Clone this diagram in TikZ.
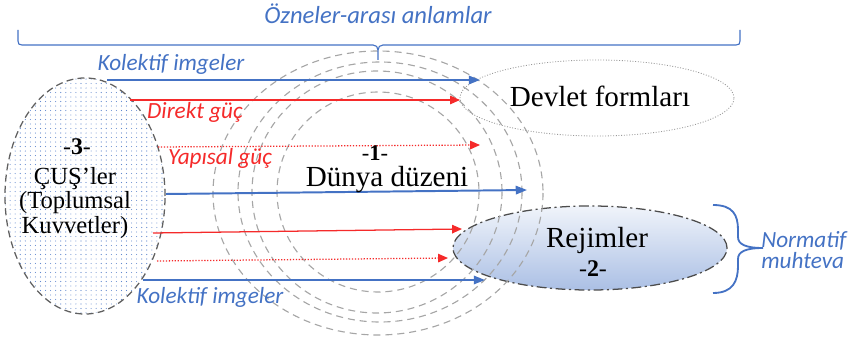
\documentclass[tikz,border=0pt]{standalone}
\usepackage{fontspec}
\setmainfont{Liberation Serif}
\newfontfamily\carlito{Carlito}
\usetikzlibrary{arrows.meta,patterns,shapes.geometric}

\definecolor{ofblue}{HTML}{4472C4}
\definecolor{ofred}{HTML}{F52A2A}

% light dot fill of the left ellipse
\pgfdeclarepatternformonly{bluedots}{\pgfqpoint{-1pt}{-1pt}}{\pgfqpoint{1pt}{1pt}}{\pgfqpoint{3.6pt}{3.2pt}}%
  {\pgfpathcircle{\pgfqpoint{0pt}{0pt}}{0.4pt}\pgfusepath{fill}}

\tikzset{
  ring/.style={gray!70, line width=0.8pt, dash pattern=on 5pt off 3.5pt},
  blarrow/.style={ofblue, line width=1.4pt, -{Triangle[length=8pt,width=6pt]}},
  rdarrow/.style={ofred, line width=0.9pt, -{Triangle[length=7pt,width=6pt]}},
  rddots/.style={rdarrow, dash pattern=on 0.9pt off 1.2pt},
  lbl/.style={font=\carlito\itshape\fontsize{16.5}{14}\selectfont, inner sep=0pt},
  bigtxt/.style={font=\fontsize{20.7}{24}\selectfont, inner sep=0pt, align=center},
}

\begin{document}
\begin{tikzpicture}[x=0.025cm, y=-0.025cm]
    \useasboundingbox (0,0) rectangle (853,340);

    % ellipses
    \node[ellipse, draw=gray!75!black, line width=0.9pt, dash pattern=on 5pt off 3pt,
          pattern=bluedots, pattern color=ofblue!85, minimum width=4cm, minimum height=5.9cm] (cus) at (85,196) {};
    \node[ellipse, draw=gray!80, line width=0.6pt, dash pattern=on 0.7pt off 1.2pt,
          minimum width=6.85cm, minimum height=1.9cm] (devlet) at (597,98) {};
    \node[ellipse, draw=black!70, line width=0.9pt, dash pattern=on 7pt off 2.5pt on 1.5pt off 2.5pt,
          top color=ofblue!8, bottom color=ofblue!45, minimum width=6.85cm, minimum height=2.1cm] (rejim) at (590,248) {};

    % Dunya duzeni rings
    \draw[ring] (378,192) ellipse [x radius=101, y radius=100];
    \draw[ring] (377,192) ellipse [x radius=125, y radius=121];
    \draw[ring] (380,192) ellipse [x radius=142, y radius=130];
    \draw[ring] (378,193) ellipse [x radius=165, y radius=142];

    % arrow ends
    \coordinate (k1a) at (107,80);  \coordinate (k1b) at (480,80);
    \coordinate (d1a) at (130,100); \coordinate (d1b) at (460,100);
    \coordinate (y1a) at (158,147); \coordinate (y1b) at (480,145);
    \coordinate (k2a) at (166,194); \coordinate (k2b) at (527,190);
    \coordinate (d2a) at (153,233); \coordinate (d2b) at (462,229);
    \coordinate (y2a) at (157,261); \coordinate (y2b) at (448,258);
    \coordinate (k3a) at (143,280); \coordinate (k3b) at (485,280);

    \draw[blarrow] (k1a) -- (k1b);
    \draw[rdarrow] (d1a) -- (d1b);
    \draw[rddots] (y1a) -- (y1b);
    \draw[blarrow] (k2a) -- (k2b);
    \draw[rdarrow] (d2a) -- (d2b);
    \draw[rddots] (y2a) -- (y2b);
    \draw[blarrow] (k3a) -- (k3b);

    % braces
    \draw[ofblue, line width=0.8pt] (18,30) -- (18,41) .. controls (18,44) and (19,45) .. (22,45) -- (373,45)
        .. controls (376,45) and (378,47) .. (378,50) -- (378,60);
    \draw[ofblue, line width=0.8pt] (378,50) .. controls (378,47) and (380,45) .. (383,45) -- (736,45)
        .. controls (739,45) and (740,44) .. (740,41) -- (740,30);
    \draw[ofblue, line width=1.3pt] (713,205) .. controls (733,205) and (738,215) .. (738,230) -- (738,237)
        .. controls (738,244) and (745,248) .. (763,248)
        .. controls (745,248) and (738,252) .. (738,259) -- (738,266)
        .. controls (738,281) and (733,293) .. (713,293);

    % labels
    \node[lbl, ofblue, font=\carlito\itshape\fontsize{17.5}{14}\selectfont] (ozneler) at (378,14) {Özneler-arası anlamlar};
    \node[lbl, ofblue] (kolUst) at (171,64) {Kolektif imgeler};
    \node[lbl, ofred] (direkt) at (195,112) {Direkt güç};
    \node[lbl, ofred] (yapisal) at (220,158) {Yapısal güç};
    \node[lbl, ofblue] (kolAlt) at (210,297) {Kolektif imgeler};
    \node[lbl, ofblue, align=left, anchor=west, font=\carlito\itshape\fontsize{16.5}{15}\selectfont] (normatif) at (761,250) {Normatif\\muhteva};

    \node[bigtxt, font=\fontsize{16}{16}\selectfont] (dunyaNo) at (375,153) {-\textbf{1}-};
    \node[bigtxt] (dunya) at (387,180) {Dünya düzeni};
    \node[bigtxt] (devletTxt) at (600,96) {Devlet formları};
    \node[bigtxt] (rejimTxt) at (597,240) {Rejimler};
    \node[bigtxt, font=\fontsize{17}{18}\selectfont] (rejimNo) at (593,269) {-\textbf{2}-};
    \node[bigtxt, font=\fontsize{17}{16}\selectfont] (cusNo) at (77,147) {-\textbf{3}-};
    \node[bigtxt, font=\fontsize{17.5}{17.6}\selectfont] (cusTxt) at (75,203) {ÇUŞ’ler\\(Toplumsal\\Kuvvetler)};
\end{tikzpicture}
\end{document}
